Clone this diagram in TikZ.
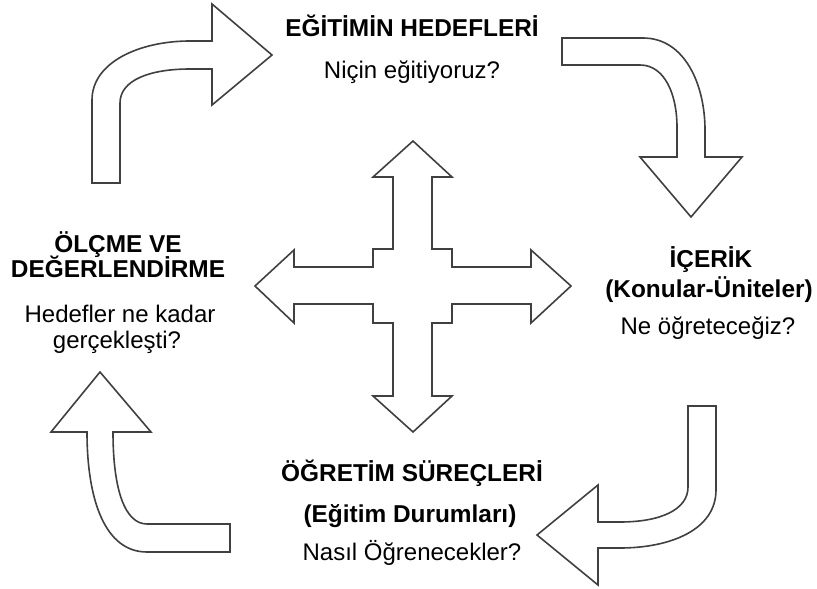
\documentclass[tikz,border=0pt]{standalone}
\usepackage{fontspec}
\setmainfont{Liberation Sans}
\begin{document}
\begin{tikzpicture}[x=1bp,y=-1bp,
  blockarrow/.style={draw=black!75, line width=1.6bp, fill=white, line join=miter},
  txt/.style={anchor=base, inner sep=0pt, font=\fontsize{24bp}{28bp}\selectfont},
  btxt/.style={anchor=base, inner sep=0pt, font=\fontsize{24.4bp}{28bp}\selectfont\bfseries}]
\useasboundingbox (0,0) rectangle (817,589);

% top-left curved arrow
\draw[blockarrow] (92,183) -- (92,100) .. controls (92,62) and (140,41) .. (190,41)
  -- (212,41) -- (212,4) -- (272,55) -- (212,105) -- (212,69) -- (190,69)
  .. controls (150,69) and (120,80) .. (120,103) -- (120,183) -- cycle;

% top-right curved arrow
\draw[blockarrow] (562,38) -- (643,38) .. controls (685,38) and (705,85) .. (705,130)
  -- (705,157) -- (742,157) -- (691,217) -- (640,157) -- (677,157) -- (677,127)
  .. controls (677,95) and (665,65) .. (640,65) -- (562,65) -- cycle;

% bottom-right curved arrow
\draw[blockarrow] (716,406) -- (716,490) .. controls (716,530) and (670,548) .. (620,548)
  -- (598,548) -- (598,585) -- (537,535) -- (598,485) -- (598,522) -- (620,522)
  .. controls (660,522) and (688,510) .. (688,487) -- (688,406) -- cycle;

% bottom-left curved arrow
\draw[blockarrow] (230,552) -- (147,552) .. controls (105,552) and (87,500) .. (87,432)
  -- (51,432) -- (100,372) -- (151,432) -- (113,432)
  .. controls (113,490) and (125,524) .. (147,524) -- (230,524) -- cycle;

% central four-way arrow
\draw[blockarrow] (413,141) -- (452,177) -- (432,177) -- (432,249) -- (452,249) -- (452,267)
  -- (531,267) -- (531,250) -- (571,286) -- (531,323) -- (531,304) -- (452,304)
  -- (452,323) -- (432,323) -- (432,396) -- (452,396) -- (413,432) -- (373,396)
  -- (393,396) -- (393,323) -- (373,323) -- (373,304) -- (294,304) -- (294,323)
  -- (255,286) -- (294,250) -- (294,267) -- (373,267) -- (373,249) -- (393,249)
  -- (393,177) -- (373,177) -- cycle;

% texts
\node[btxt] (top1) at (412,37) {EĞİTİMİN HEDEFLERİ};
\node[txt]  (top2) at (412,79) {Niçin eğitiyoruz?};

\node[btxt] (r1) at (711,267) {İÇERİK};
\node[btxt] (r2) at (709,297) {(Konular-Üniteler)};
\node[txt]  (r3) at (708,334) {Ne öğreteceğiz?};

\node[btxt] (l1) at (118,252) {ÖLÇME VE};
\node[btxt] (l2) at (118,277) {DEĞERLENDİRME};
\node[txt]  (l3) at (120,322) {Hedefler ne kadar};
\node[txt]  (l4) at (117,348) {gerçekleşti?};

\node[btxt] (b1) at (412,481) {ÖĞRETİM SÜREÇLERİ};
\node[btxt] (b2) at (410,522) {(Eğitim Durumları)};
\node[txt]  (b3) at (412,560) {Nasıl Öğrenecekler?};
\end{tikzpicture}
\end{document}
